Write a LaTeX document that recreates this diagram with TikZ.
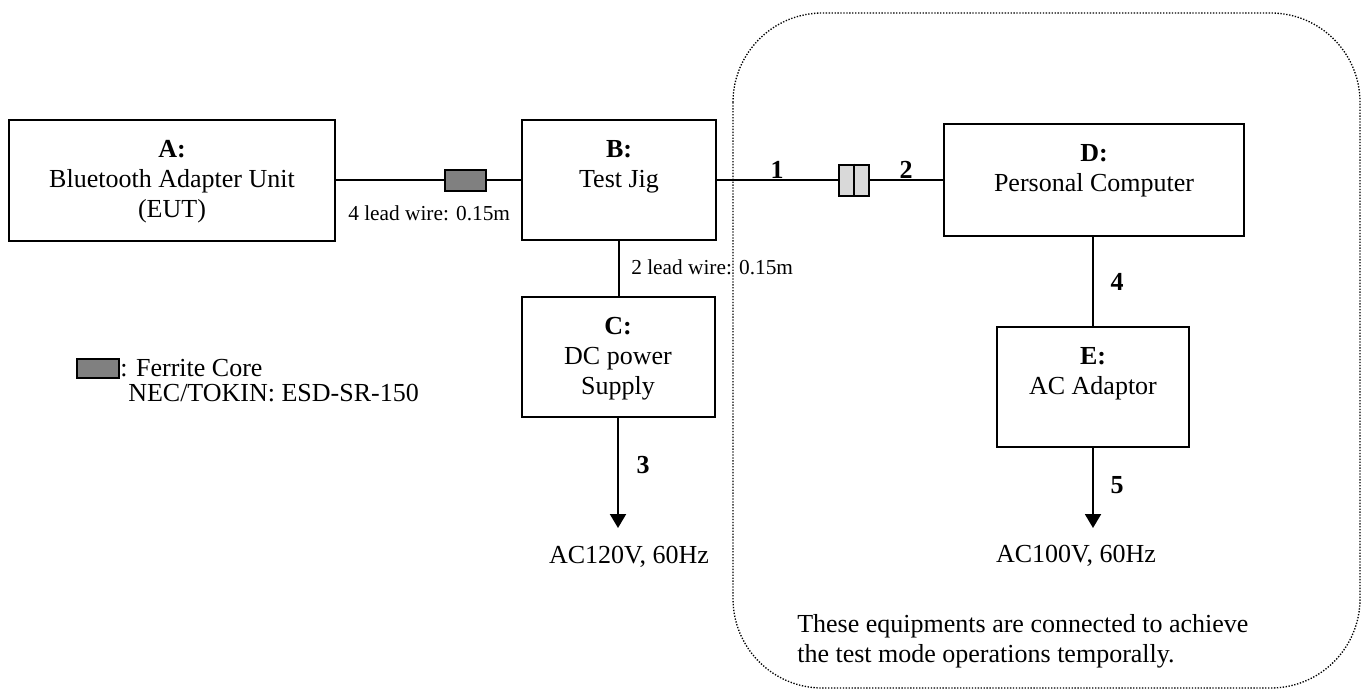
\documentclass[tikz,border=0pt]{standalone}
\usepackage{fontspec}
\setmainfont{Liberation Serif}
\usetikzlibrary{arrows.meta}
\begin{document}
\begin{tikzpicture}[x=0.75pt,y=-0.75pt,
  box/.style={draw=black,line width=1.5pt,fill=white,inner sep=0pt},
  wire/.style={draw=black,line width=1.5pt},
  feed/.style={wire,-{Triangle[width=12pt,length=10.5pt]}},
  btxt/.style={font=\fontsize{19.5pt}{22.5pt}\selectfont,align=center,inner sep=0pt,anchor=north},
  txt/.style={font=\fontsize{19.5pt}{22.5pt}\selectfont,inner sep=0pt},
  small/.style={font=\fontsize{16pt}{19pt}\selectfont,inner sep=0pt},
  num/.style={font=\fontsize{19.5pt}{22.5pt}\selectfont\bfseries,inner sep=0pt},
  ferrite/.style={draw=black,line width=1.5pt,fill=black!50,inner sep=0pt},
  ferritelt/.style={draw=black,line width=1.5pt,fill=black!15,inner sep=0pt},
  group/.style={draw=black,line width=1pt,dash pattern=on 1pt off 1.2pt}]
\useasboundingbox (0,0) rectangle (1362,690);
% dotted group
\draw[group,rounded corners=67pt] (733,13) rectangle (1360,688);
% boxes
\node[box,minimum width=244.5pt,minimum height=90.75pt] (A) at (172,180) {};
\node[box,minimum width=145.5pt,minimum height=90pt] (B) at (619,180) {};
\node[box,minimum width=144.75pt,minimum height=90pt] (C) at (618,357) {};
\node[box,minimum width=225pt,minimum height=84pt] (D) at (1094,180) {};
\node[box,minimum width=144pt,minimum height=90pt] (E) at (1093,387) {};
% box texts
\node[btxt] (At) at ([yshift=-16pt]A.north) {\textbf{A:}\\Bluetooth Adapter Unit\\(EUT)};
\node[btxt] (Bt) at ([yshift=-16pt]B.north) {\textbf{B:}\\Test Jig};
\node[btxt] (Ct) at ([yshift=-16pt]C.north) {\textbf{C:}\\DC power\\Supply};
\node[btxt] (Dt) at ([yshift=-16pt]D.north) {\textbf{D:}\\Personal Computer};
\node[btxt] (Et) at ([yshift=-16pt]E.north) {\textbf{E:}\\AC Adaptor};
% ferrite cores
\node[ferrite,minimum width=30.75pt,minimum height=15.75pt] (F1) at (465.5,180) {};
\node[ferritelt,minimum width=22.5pt,minimum height=23.25pt] (F2) at (854,180) {};
% connectors
\draw[wire] (A.east) -- (F1.west);
\draw[wire] (F1.east) -- (B.west);
\draw[wire] (B.east) -- (F2.west);
\draw[wire] (F2.east) -- (D.west);
\draw[line width=1.5pt] (F2.north) -- (F2.south);
\draw[wire] (B.south) -- (B.south |- C.north);
\draw[wire] (D.south -| E.north) -- (E.north);
\coordinate (c3) at (618,528);
\coordinate (e5) at (1093,528);
\draw[feed] (C.south) -- (c3);
\draw[feed] (E.south) -- (e5);
% labels
\node[small,anchor=west] (l4) at (348,213) {4 lead wire: 0.15m};
\node[small,anchor=west] (l2) at (631,267) {2 lead wire: 0.15m};
\node[num] (n1) at (777,170) {1};
\node[num] (n2) at (906,170) {2};
\node[num] (n3) at (643,465) {3};
\node[num] (n4) at (1117,282) {4};
\node[num] (n5) at (1117,485) {5};
\node[txt] (ac1) at (629,557) {AC120V, 60Hz};
\node[txt] (ac2) at (1076,556) {AC100V, 60Hz};
% legend
\node[ferrite,minimum width=31.5pt,minimum height=14.25pt] (L) at (98,368.5) {};
\node[txt,anchor=west] (Lt1) at (L.east) {: Ferrite Core};
\node[txt,anchor=west] (Lt2) at (128,393) {NEC/TOKIN: ESD-SR-150};
% note
\node[txt,anchor=north west,align=left] (note) at (797,614) {These equipments are connected to achieve\\the test mode operations temporally.};
\end{tikzpicture}
\end{document}
